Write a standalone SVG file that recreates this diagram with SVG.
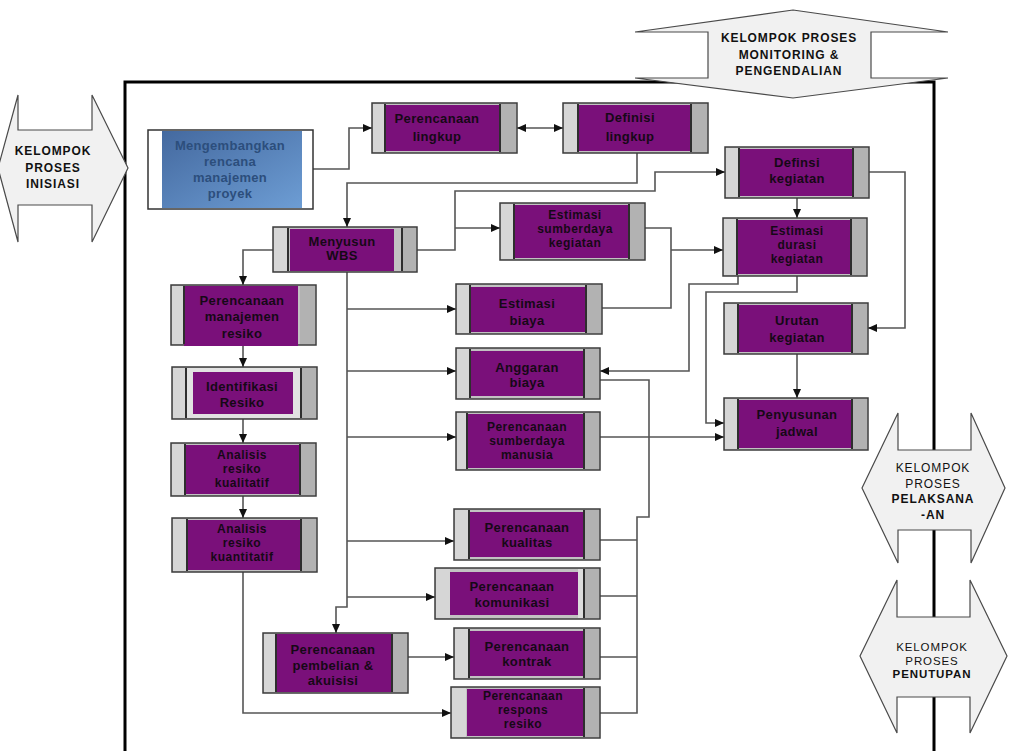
<svg xmlns="http://www.w3.org/2000/svg" width="1018" height="751" viewBox="0 0 1018 751">
<style>
.box{fill:#c2c2c2;stroke:#3c3c3c;stroke-width:1.5}
.bl{fill:#d6d6d6}
.br{fill:#b2b2b2}
.sep{stroke:#2e2e2e;stroke-width:2;fill:none}
.pu{fill:#7a107a}
.nt{font-family:"Liberation Sans",Arial,sans-serif;font-size:13px;font-weight:bold;fill:#160816;text-anchor:middle;letter-spacing:0.35px}
.n3{font-size:12px;letter-spacing:0.5px}
.bt{font-family:"Liberation Sans",Arial,sans-serif;font-size:13px;font-weight:bold;fill:#2c4e7c;text-anchor:middle;letter-spacing:0.3px}
.grp{fill:#f1f1f1;stroke:#4a4a4a;stroke-width:1.2}
.gt{font-family:"Liberation Sans",Arial,sans-serif;font-size:12px;fill:#111;text-anchor:middle;letter-spacing:0.9px}
.gs{font-size:11.5px}
.b{font-weight:bold}
.cn{fill:none;stroke:#555;stroke-width:1.6}
.frame{fill:none;stroke:#000;stroke-width:3}
</style>
<defs>
<marker id="ah" markerWidth="9" markerHeight="8" refX="9" refY="4" orient="auto-start-reverse" markerUnits="userSpaceOnUse"><path d="M0,0 L9,4 L0,8 z" fill="#111"/></marker>
<linearGradient id="blueg" x1="0" y1="0" x2="1" y2="1"><stop offset="0" stop-color="#44699f"/><stop offset="1" stop-color="#6d9dd4"/></linearGradient>
</defs>
<rect width="1018" height="751" fill="#fff"/>

<path class="frame" d="M125,760 V82 H934 V760"/>

<g id="connectors">
<path class="cn" d="M313,169 H349 V128 H372" marker-end="url(#ah)"/>
<path class="cn" d="M517,128 H563" marker-start="url(#ah)" marker-end="url(#ah)"/>
<path class="cn" d="M637,153 V183 H347 V227" marker-end="url(#ah)"/>
<path class="cn" d="M417,250 H455 V191 H655 V172 H725" marker-end="url(#ah)"/>
<path class="cn" d="M455,228 H500" marker-end="url(#ah)"/>
<path class="cn" d="M797,198 V218" marker-end="url(#ah)"/>
<path class="cn" d="M869,172 H905 V328 H868" marker-end="url(#ah)"/>
<path class="cn" d="M645,228 H671 V308 H602"/>
<path class="cn" d="M671,250 H723" marker-end="url(#ah)"/>
<path class="cn" d="M738,276 V284 H689 V371 H600" marker-end="url(#ah)"/>
<path class="cn" d="M797,276 V292 H706 V423 H724" marker-end="url(#ah)"/>
<path class="cn" d="M797,354 V398" marker-end="url(#ah)"/>
<path class="cn" d="M600,437 H724" marker-end="url(#ah)"/>
<path class="cn" d="M600,380 H649 V517 H637 V713 H600"/>
<path class="cn" d="M600,540 H637 M600,596 H637 M600,657 H637"/>
<path class="cn" d="M347,272 V607 H336 V633" marker-end="url(#ah)"/>
<path class="cn" d="M347,309 H456" marker-end="url(#ah)"/>
<path class="cn" d="M347,371 H456" marker-end="url(#ah)"/>
<path class="cn" d="M347,437 H456" marker-end="url(#ah)"/>
<path class="cn" d="M347,541 H454" marker-end="url(#ah)"/>
<path class="cn" d="M347,597 H435" marker-end="url(#ah)"/>
<path class="cn" d="M273,250 H243 V285" marker-end="url(#ah)"/>
<path class="cn" d="M243,345 V367" marker-end="url(#ah)"/>
<path class="cn" d="M243,419 V443" marker-end="url(#ah)"/>
<path class="cn" d="M243,496 V518" marker-end="url(#ah)"/>
<path class="cn" d="M243,572 V713 H451" marker-end="url(#ah)"/>
<path class="cn" d="M408,657 H454" marker-end="url(#ah)"/>
</g>

<g id="grp-inisiasi">
<path class="grp" d="M-2,168 L18,95 V130 H92 V95 L128,168 L92,242 V205 H18 V242 Z"/>
<text class="gt b" x="53" y="154.5">KELOMPOK</text>
<text class="gt b" x="53" y="171.5">PROSES</text>
<text class="gt b" x="53" y="187.5">INISIASI</text>
</g>
<g id="grp-monitoring">
<path class="grp" d="M793,10 L948,32 H871 V78 H948 L793,98 L635,78 H708 V32 H635 Z"/>
<text class="gt b" x="789" y="41.5">KELOMPOK PROSES</text>
<text class="gt b" x="789" y="58.5">MONITORING &amp;</text>
<text class="gt b" x="789" y="74.5">PENGENDALIAN</text>
</g>
<g id="grp-pelaksanaan">
<path class="grp" d="M898,413 V450 H971 V413 L1005,488 L971,563 V530 H898 V563 L862,488 Z"/>
<text class="gt" x="933" y="471.5">KELOMPOK</text>
<text class="gt" x="933" y="487.5">PROSES</text>
<text class="gt b" x="933" y="502.5">PELAKSANA</text>
<text class="gt b" x="933" y="518.5">-AN</text>
</g>
<g id="grp-penutupan">
<path class="grp" d="M897,580 V617 H970 V580 L1007,656 L970,733 V697 H897 V733 L860,656 Z"/>
<text class="gt gs" x="932" y="651">KELOMPOK</text>
<text class="gt gs" x="932" y="664.5">PROSES</text>
<text class="gt gs b" x="932" y="678">PENUTUPAN</text>
</g>

<g id="n-mengembangkan">
<rect x="148" y="130" width="165" height="79" fill="#fff" stroke="#333" stroke-width="1.5"/>
<rect x="162" y="131" width="140" height="77" fill="url(#blueg)"/>
<text class="bt" x="230" y="149.5">Mengembangkan</text>
<text class="bt" x="230" y="165.5">rencana</text>
<text class="bt" x="230" y="181.5">manajemen</text>
<text class="bt" x="230" y="197.5">proyek</text>
</g>

<g id="n-perencanaan-lingkup">
<rect class="box" x="372" y="103" width="145" height="50"/>
<rect class="bl" x="373" y="104" width="12" height="48"/><rect class="br" x="501" y="104" width="15" height="48"/>
<rect class="pu" x="386" y="105" width="113" height="46"/>
<path class="sep" d="M385,104 V152 M500,104 V152"/>
<text class="nt" x="437" y="122.5">Perencanaan</text>
<text class="nt" x="437" y="140.5">lingkup</text>
</g>
<g id="n-definisi-lingkup">
<rect class="box" x="563" y="103" width="145" height="50"/>
<rect class="bl" x="564" y="104" width="14" height="48"/><rect class="br" x="692" y="104" width="15" height="48"/>
<rect class="pu" x="579" y="105" width="112" height="46"/>
<path class="sep" d="M578,104 V152 M691,104 V152"/>
<text class="nt" x="630" y="121.5">Definisi</text>
<text class="nt" x="630" y="140.5">lingkup</text>
</g>
<g id="n-definsi-kegiatan">
<rect class="box" x="725" y="147" width="144" height="51"/>
<rect class="bl" x="726" y="148" width="13" height="49"/><rect class="br" x="854" y="148" width="14" height="49"/>
<rect class="pu" x="740" y="149" width="113" height="47"/>
<path class="sep" d="M739,148 V197 M853,148 V197"/>
<text class="nt" x="797" y="166.5">Definsi</text>
<text class="nt" x="797" y="182.5">kegiatan</text>
</g>
<g id="n-estimasi-durasi">
<rect class="box" x="723" y="218" width="144" height="58"/>
<rect class="bl" x="724" y="219" width="13" height="56"/><rect class="br" x="852" y="219" width="14" height="56"/>
<rect class="pu" x="738" y="220" width="113" height="54"/>
<path class="sep" d="M737,219 V275 M851,219 V275"/>
<text class="nt n3" x="797" y="235">Estimasi</text>
<text class="nt n3" x="797" y="249">durasi</text>
<text class="nt n3" x="797" y="263">kegiatan</text>
</g>
<g id="n-urutan-kegiatan">
<rect class="box" x="724" y="303" width="144" height="51"/>
<rect class="bl" x="725" y="304" width="13" height="49"/><rect class="br" x="853" y="304" width="14" height="49"/>
<rect class="pu" x="739" y="305" width="113" height="47"/>
<path class="sep" d="M738,304 V353 M852,304 V353"/>
<text class="nt" x="797" y="324.5">Urutan</text>
<text class="nt" x="797" y="341.5">kegiatan</text>
</g>
<g id="n-penyusunan-jadwal">
<rect class="box" x="724" y="398" width="144" height="52"/>
<rect class="bl" x="725" y="399" width="13" height="50"/><rect class="br" x="853" y="399" width="14" height="50"/>
<rect class="pu" x="739" y="400" width="113" height="48"/>
<path class="sep" d="M738,399 V449 M852,399 V449"/>
<text class="nt" x="797" y="418.5">Penyusunan</text>
<text class="nt" x="797" y="435.5">jadwal</text>
</g>
<g id="n-estimasi-sumberdaya">
<rect class="box" x="500" y="203" width="145" height="57"/>
<rect class="bl" x="501" y="204" width="13" height="55"/><rect class="br" x="630" y="204" width="14" height="55"/>
<rect class="pu" x="515" y="205" width="114" height="53"/>
<path class="sep" d="M514,204 V259 M629,204 V259"/>
<text class="nt n3" x="575" y="219">Estimasi</text>
<text class="nt n3" x="575" y="233">sumberdaya</text>
<text class="nt n3" x="575" y="247">kegiatan</text>
</g>
<g id="n-estimasi-biaya">
<rect class="box" x="456" y="284" width="146" height="50"/>
<rect class="bl" x="457" y="285" width="13" height="48"/><rect class="br" x="587" y="285" width="14" height="48"/>
<rect class="pu" x="471" y="287" width="115" height="45"/>
<path class="sep" d="M470,285 V333 M586,285 V333"/>
<text class="nt" x="527" y="307.5">Estimasi</text>
<text class="nt" x="527" y="324.5">biaya</text>
</g>
<g id="n-anggaran-biaya">
<rect class="box" x="456" y="348" width="144" height="51"/>
<rect class="bl" x="457" y="349" width="13" height="49"/><rect class="br" x="585" y="349" width="14" height="49"/>
<rect class="pu" x="471" y="351" width="113" height="45"/>
<path class="sep" d="M470,349 V398 M584,349 V398"/>
<text class="nt" x="527" y="371.5">Anggaran</text>
<text class="nt" x="527" y="386.5">biaya</text>
</g>
<g id="n-perencanaan-sdm">
<rect class="box" x="456" y="412" width="144" height="58"/>
<rect class="bl" x="457" y="413" width="10" height="56"/><rect class="br" x="585" y="413" width="14" height="56"/>
<rect class="pu" x="468" y="414" width="116" height="54"/>
<path class="sep" d="M467,413 V469 M584,413 V469"/>
<text class="nt n3" x="527" y="431">Perencanaan</text>
<text class="nt n3" x="527" y="445">sumberdaya</text>
<text class="nt n3" x="527" y="459">manusia</text>
</g>
<g id="n-perencanaan-kualitas">
<rect class="box" x="454" y="509" width="146" height="51"/>
<rect class="bl" x="455" y="510" width="14" height="49"/><rect class="br" x="585" y="510" width="14" height="49"/>
<rect class="pu" x="470" y="512" width="114" height="45"/>
<path class="sep" d="M469,510 V559 M584,510 V559"/>
<text class="nt" x="527" y="531.5">Perencanaan</text>
<text class="nt" x="527" y="546.5">kualitas</text>
</g>
<g id="n-perencanaan-komunikasi">
<rect class="box" x="435" y="568" width="165" height="51"/>
<rect class="bl" x="436" y="569" width="14" height="49"/><rect class="br" x="585" y="569" width="14" height="49"/>
<rect fill="#dcdcdc" x="578" y="569" width="6" height="49"/>
<rect class="pu" x="450" y="572" width="128" height="43"/>
<path class="sep" d="M584,569 V618"/>
<text class="nt" x="512" y="590.5">Perencanaan</text>
<text class="nt" x="512" y="606.5">komunikasi</text>
</g>
<g id="n-perencanaan-kontrak">
<rect class="box" x="454" y="628" width="146" height="51"/>
<rect class="bl" x="455" y="629" width="14" height="49"/><rect class="br" x="585" y="629" width="14" height="49"/>
<rect class="pu" x="470" y="631" width="114" height="45"/>
<path class="sep" d="M469,629 V678 M584,629 V678"/>
<text class="nt" x="527" y="650.5">Perencanaan</text>
<text class="nt" x="527" y="665.5">kontrak</text>
</g>
<g id="n-perencanaan-respons">
<rect class="box" x="451" y="687" width="149" height="51"/>
<rect class="bl" x="452" y="688" width="14" height="49"/><rect class="br" x="585" y="688" width="14" height="49"/>
<rect class="pu" x="467" y="689" width="117" height="47"/>
<path class="sep" d="M584,688 V737"/>
<text class="nt n3" x="523" y="700">Perencanaan</text>
<text class="nt n3" x="523" y="714">respons</text>
<text class="nt n3" x="523" y="728">resiko</text>
</g>
<g id="n-menyusun-wbs">
<rect class="box" x="273" y="227" width="144" height="45"/>
<rect class="bl" x="274" y="228" width="14" height="43"/><rect class="br" x="402" y="228" width="14" height="43"/>
<rect class="pu" x="290" y="229" width="104" height="42"/>
<path class="sep" d="M288,228 V271 M402,228 V271"/>
<text class="nt" x="342" y="245.5">Menyusun</text>
<text class="nt" x="342" y="259.5">WBS</text>
</g>
<g id="n-manajemen-resiko">
<rect class="box" x="171" y="285" width="145" height="60"/>
<rect class="bl" x="172" y="286" width="13" height="58"/><rect class="br" x="300" y="286" width="15" height="58"/>
<rect class="pu" x="184" y="286" width="114" height="60"/>
<path class="sep" d="M184,286 V344"/>
<text class="nt" x="242" y="304.5">Perencanaan</text>
<text class="nt" x="242" y="321">manajemen</text>
<text class="nt" x="242" y="337.5">resiko</text>
</g>
<g id="n-identifikasi-resiko">
<rect class="box" x="172" y="367" width="145" height="52"/>
<rect class="bl" x="173" y="368" width="13" height="50"/><rect class="br" x="302" y="368" width="14" height="50"/>
<rect fill="#e2e2e2" x="186" y="368" width="115" height="50"/>
<rect class="pu" x="193" y="372" width="100" height="42"/>
<path class="sep" d="M186,368 V418 M301,368 V418"/>
<text class="nt" x="242" y="390.5">Identifikasi</text>
<text class="nt" x="242" y="406.5">Resiko</text>
</g>
<g id="n-analisis-kualitatif">
<rect class="box" x="171" y="443" width="145" height="53"/>
<rect class="bl" x="172" y="444" width="13" height="51"/><rect class="br" x="300" y="444" width="15" height="51"/>
<rect class="pu" x="186" y="445" width="113" height="49"/>
<path class="sep" d="M185,444 V495 M300,444 V495"/>
<text class="nt n3" x="242" y="459">Analisis</text>
<text class="nt n3" x="242" y="473">resiko</text>
<text class="nt n3" x="242" y="487">kualitatif</text>
</g>
<g id="n-analisis-kuantitatif">
<rect class="box" x="172" y="518" width="145" height="54"/>
<rect class="bl" x="173" y="519" width="13" height="52"/><rect class="br" x="302" y="519" width="14" height="52"/>
<rect class="pu" x="188" y="520" width="113" height="50"/>
<path class="sep" d="M187,519 V571 M301,519 V571"/>
<text class="nt n3" x="242" y="533">Analisis</text>
<text class="nt n3" x="242" y="547">resiko</text>
<text class="nt n3" x="242" y="561">kuantitatif</text>
</g>
<g id="n-pembelian-akuisisi">
<rect class="box" x="263" y="633" width="145" height="60"/>
<rect class="bl" x="264" y="634" width="12" height="58"/><rect class="br" x="393" y="634" width="14" height="58"/>
<rect class="pu" x="277" y="634" width="115" height="58"/>
<path class="sep" d="M276,634 V692 M392,634 V692"/>
<text class="nt" x="333" y="654">Perencanaan</text>
<text class="nt" x="333" y="669.5">pembelian &amp;</text>
<text class="nt" x="333" y="685">akuisisi</text>
</g>
</svg>
